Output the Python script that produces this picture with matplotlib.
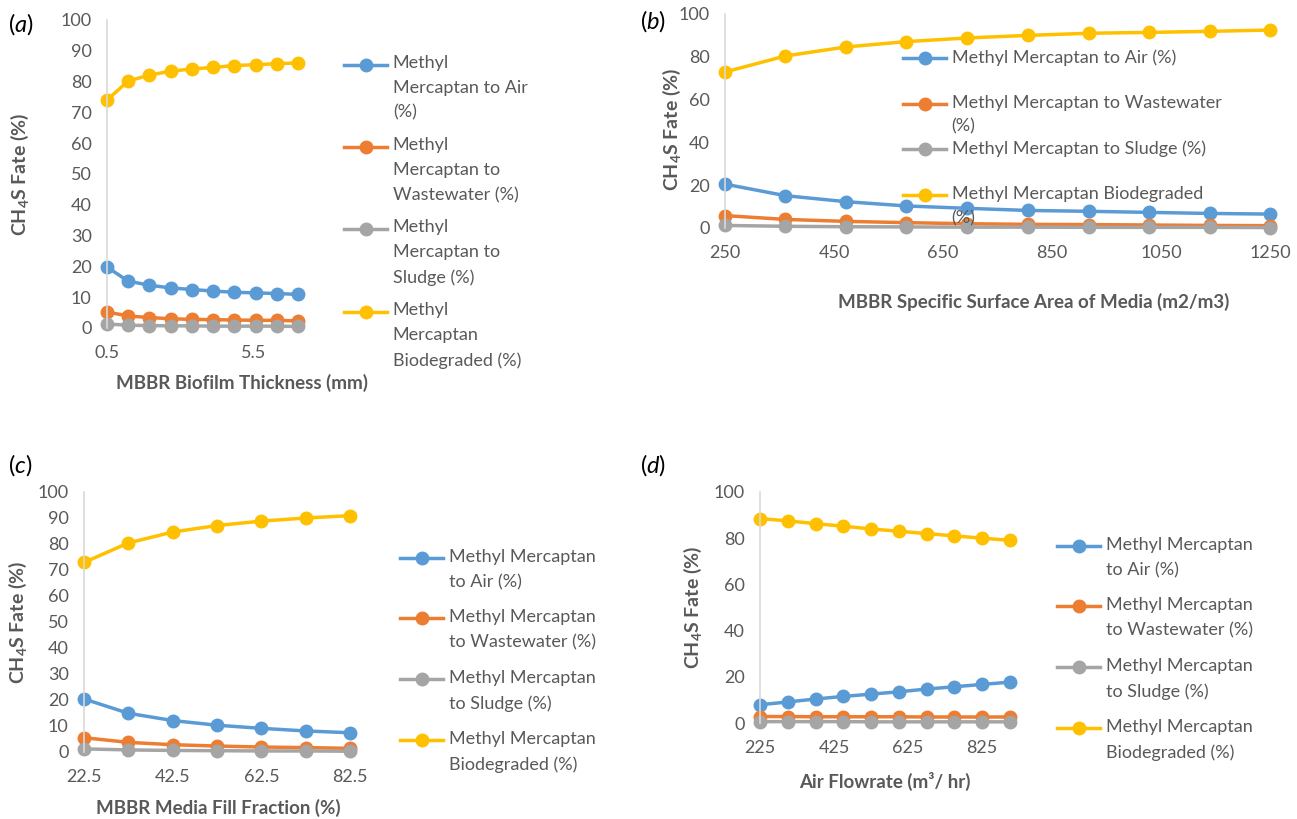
import numpy as np
import matplotlib
matplotlib.use("Agg")
import matplotlib.pyplot as plt
from matplotlib.legend_handler import HandlerLine2D
from matplotlib.lines import Line2D

plt.rcParams['font.family'] = ['Lato', 'DejaVu Sans']
plt.rcParams['mathtext.fontset'] = 'custom'
plt.rcParams['mathtext.rm'] = 'Lato'
plt.rcParams['mathtext.it'] = 'Lato:italic'
plt.rcParams['mathtext.bf'] = 'Lato:bold'

# ---------------- data ----------------
series_colors = ['#5B9BD5', '#ED7D31', '#A5A5A5', '#FFC000']

# (a) biofilm thickness
a_x = [0.5, 1.22, 1.94, 2.67, 3.39, 4.11, 4.83, 5.56, 6.28, 7.0]
a_air = [19.8, 15.2, 13.9, 13.0, 12.5, 12.0, 11.6, 11.4, 11.2, 10.9]
a_ww = [5.2, 3.9, 3.4, 3.0, 2.8, 2.7, 2.6, 2.5, 2.5, 2.3]
a_sl = [1.3, 0.9, 0.8, 0.7, 0.7, 0.6, 0.6, 0.6, 0.6, 0.5]
a_bio = [74.0, 80.2, 82.1, 83.4, 84.1, 84.6, 85.2, 85.5, 85.8, 86.1]
a_xticks = [0.5, 5.5]
a_xticklabels = ['0.5', '5.5']
a_labels = ['Methyl\nMercaptan to Air\n(%)',
            'Methyl\nMercaptan to\nWastewater (%)',
            'Methyl\nMercaptan to\nSludge (%)',
            'Methyl\nMercaptan\nBiodegraded (%)']

# (b) specific surface area
b_x = [250, 361, 472, 583, 694, 806, 917, 1028, 1139, 1250]
b_air = [20.5, 15.1, 12.3, 10.3, 9.2, 8.2, 7.8, 7.3, 6.8, 6.5]
b_ww = [5.8, 4.0, 3.1, 2.5, 2.0, 1.7, 1.6, 1.4, 1.2, 1.1]
b_sl = [1.2, 0.8, 0.6, 0.5, 0.4, 0.4, 0.3, 0.3, 0.3, 0.2]
b_bio = [72.9, 80.4, 84.6, 87.1, 88.8, 90.0, 91.0, 91.4, 91.9, 92.5]
b_xticks = [250, 450, 650, 850, 1050, 1250]
b_xticklabels = ['250', '450', '650', '850', '1050', '1250']
b_labels = ['Methyl Mercaptan to Air (%)\n ',
            'Methyl Mercaptan to Wastewater\n(%)',
            'Methyl Mercaptan to Sludge (%)\n ',
            'Methyl Mercaptan Biodegraded\n(%)']

# (c) media fill fraction
c_x = [22.5, 32.5, 42.5, 52.5, 62.5, 72.5, 82.5]
c_air = [20.4, 14.9, 12.1, 10.3, 9.1, 8.1, 7.4]
c_ww = [5.5, 3.7, 2.8, 2.3, 1.9, 1.7, 1.4]
c_sl = [1.2, 0.8, 0.6, 0.5, 0.4, 0.4, 0.3]
c_bio = [72.9, 80.4, 84.6, 87.1, 88.8, 90.0, 90.9]
c_xticks = [22.5, 42.5, 62.5, 82.5]
c_xticklabels = ['22.5', '42.5', '62.5', '82.5']

# (d) air flowrate
d_x = [225, 300, 375, 450, 525, 600, 675, 750, 825, 900]
d_air = [7.9, 9.1, 10.4, 11.5, 12.5, 13.5, 14.7, 15.7, 16.7, 17.7]
d_ww = [2.8, 2.8, 2.7, 2.7, 2.7, 2.7, 2.6, 2.6, 2.6, 2.6]
d_sl = [0.6, 0.6, 0.6, 0.6, 0.5, 0.5, 0.5, 0.5, 0.5, 0.5]
d_bio = [88.5, 87.5, 86.3, 85.2, 84.0, 83.0, 82.0, 81.0, 80.0, 79.1]
d_xticks = [225, 425, 625, 825]
d_xticklabels = ['225', '425', '625', '825']

cd_labels = ['Methyl Mercaptan\nto Air (%)',
             'Methyl Mercaptan\nto Wastewater (%)',
             'Methyl Mercaptan\nto Sludge (%)',
             'Methyl Mercaptan\nBiodegraded (%)']

ylabel_text = r'CH$_\mathbf{4}$S Fate (%)'

# ---------------- styling ----------------
W, H = 1297, 819
TXT = '#595959'
fig = plt.figure(figsize=(W / 100, H / 100), dpi=100)


class FirstLineHandler(HandlerLine2D):
    def __init__(self, shift_pt, **kw):
        super().__init__(**kw)
        self.shift_pt = shift_pt

    def create_artists(self, legend, orig_handle, xdescent, ydescent,
                       width, height, fontsize, trans):
        arts = super().create_artists(legend, orig_handle, xdescent, ydescent,
                                      width, height, fontsize, trans)
        for art in arts:
            art.set_ydata(np.asarray(art.get_ydata(), float) + self.shift_pt)
        return arts


def make_axes(px_left, px_right, px_top, px_bottom):
    return fig.add_axes([px_left / W, 1 - px_bottom / H,
                         (px_right - px_left) / W, (px_bottom - px_top) / H])


def draw_panel(ax, x, ys, xlim, xticks, xticklabels, ystep,
               xlabel, xlab_pos, ylab_x, ylab_y=0.5):
    handles = []
    for y, c in zip(ys, series_colors):
        h, = ax.plot(x, y, color=c, lw=2.5, marker='o', ms=9,
                     clip_on=False)
        handles.append(h)
    ax.set_xlim(*xlim)
    ax.set_ylim(0, 100)
    ax.set_yticks(np.arange(0, 101, ystep))
    ax.set_xticks(xticks)
    ax.set_xticklabels(xticklabels)
    for s in ['top', 'right', 'bottom']:
        ax.spines[s].set_visible(False)
    ax.spines['left'].set_color('#D9D9D9')
    ax.spines['left'].set_linewidth(1.2)
    ax.tick_params(axis='both', length=0, labelsize=13, labelcolor=TXT)
    ax.tick_params(axis='x', pad=12)
    ax.tick_params(axis='y', pad=11)
    ax.set_ylabel(ylabel_text, fontsize=14, fontweight='bold', color=TXT)
    ax.yaxis.set_label_coords(ylab_x, ylab_y)
    ax.yaxis.label.set_verticalalignment('center')
    ax.set_xlabel(xlabel, fontsize=13.5, fontweight='bold', color=TXT)
    ax.xaxis.set_label_coords(*xlab_pos)
    ax.xaxis.label.set_verticalalignment('center')
    return handles


def add_legend(ax, handles, labels, x_px, y_px, linespacing, labelspacing, shift_pt):
    leg = ax.legend(handles, labels, loc='upper left',
                    bbox_to_anchor=(x_px / W, 1 - y_px / H),
                    bbox_transform=fig.transFigure, frameon=False,
                    borderpad=0, borderaxespad=0, handlelength=2.4,
                    handletextpad=0.3, labelspacing=labelspacing,
                    fontsize=13, labelcolor=TXT,
                    handler_map={Line2D: FirstLineHandler(shift_pt)})
    for t in leg.get_texts():
        t.set_linespacing(linespacing)
    return leg


# (a)
ax_a = make_axes(107, 298, 20, 328)
h = draw_panel(ax_a, a_x, [a_air, a_ww, a_sl, a_bio], (0.5, 7.0),
               a_xticks, a_xticklabels, 10, 'MBBR Biofilm Thickness (mm)',
               (0.707, -0.179), -0.455)
add_legend(ax_a, h, a_labels, 344, 55, 1.68, 0.9, 17)

# (b)
ax_b = make_axes(725, 1270, 14, 228)
h = draw_panel(ax_b, b_x, [b_air, b_ww, b_sl, b_bio], (250, 1250),
               b_xticks, b_xticklabels, 20,
               'MBBR Specific Surface Area of Media (m2/m3)',
               (0.567, -0.346), -0.097, 0.46)
add_legend(ax_b, h, b_labels, 903, 49, 1.6, 0.3, 8.1)

# (c)
ax_c = make_axes(84, 350, 492, 752)
h = draw_panel(ax_c, c_x, [c_air, c_ww, c_sl, c_bio], (22.5, 82.5),
               c_xticks, c_xticklabels, 10, 'MBBR Media Fill Fraction (%)',
               (0.504, -0.215), -0.248)
add_legend(ax_c, h, cd_labels, 400, 549, 1.7, 1.05, 8.6)

# (d)
ax_d = make_axes(760, 1010, 492, 723)
h = draw_panel(ax_d, d_x, [d_air, d_ww, d_sl, d_bio], (225, 900),
               d_xticks, d_xticklabels, 20, 'Air Flowrate (m³/ hr)',
               (0.5, -0.255), -0.268)
add_legend(ax_d, h, cd_labels, 1057, 537, 1.7, 1.05, 8.6)

# panel letters
for lab, xp, yp in [('a', 8, 24), ('b', 640, 21), ('c', 8, 465), ('d', 640, 465)]:
    fig.text(xp / W, 1 - yp / H, r'($\mathit{' + lab + r'}$)', fontsize=17,
             color='black', ha='left', va='center')

fig.savefig('out.png', dpi=100)
